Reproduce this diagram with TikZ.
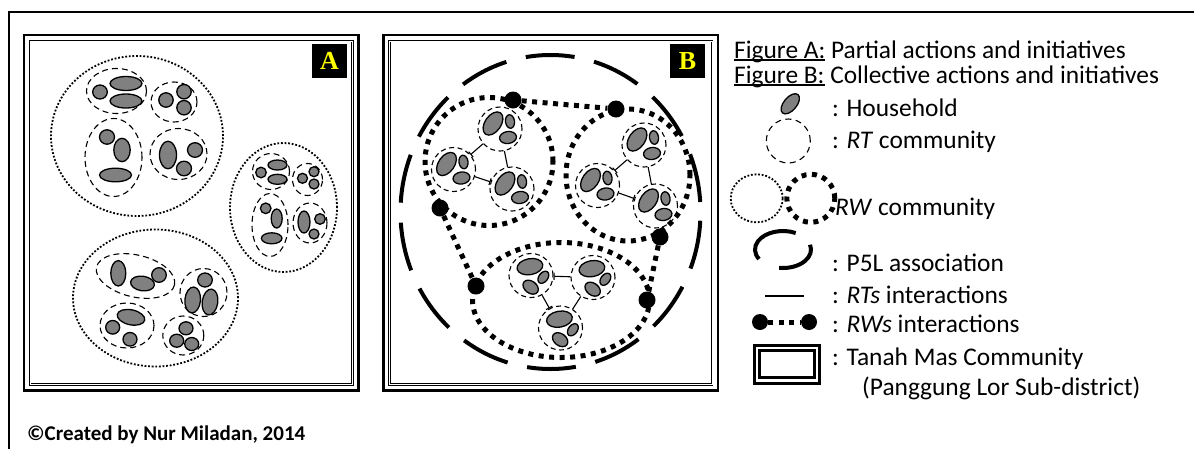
\documentclass[tikz,border=0pt]{standalone}
\usepackage{fontspec}
\setmainfont{Carlito}
\newfontfamily\labfont{Liberation Serif}
\usetikzlibrary{shapes.geometric,arrows.meta}
\definecolor{hhgray}{RGB}{128,128,128}
\definecolor{labyellow}{RGB}{255,255,0}
\newsavebox{\ulsave}
\newcommand{\myul}[1]{\sbox{\ulsave}{#1}\rlap{\rule[-2.6pt]{\wd\ulsave}{1.3pt}}\usebox{\ulsave}}
\tikzset{
 hh/.style={draw=black, fill=hhgray, line width=1.3pt},
 rtA/.style={draw, ellipse, inner sep=0pt, line width=1.1pt, dash pattern=on 6pt off 4pt},
 rtB/.style={draw, circle, inner sep=0pt, minimum size=44pt, line width=1.1pt, dash pattern=on 5pt off 3.5pt},
 rwA/.style={line width=1.8pt, dash pattern=on 1.8pt off 1.8pt},
 rwB/.style={line width=5pt, dash pattern=on 5pt off 5.5pt},
 p5l/.style={line width=4pt, dash pattern=on 49pt off 20pt, dash phase=59pt},
 rwdot/.style={circle, fill=black, inner sep=0pt, minimum size=17pt},
 rtline/.style={line width=1.1pt},
 bartip/.style={-{Bar[width=7pt,line width=1.1pt]}},
 lbl/.style={fill=black, text=labyellow, minimum width=35pt, minimum height=34pt, inner sep=0pt, font=\labfont\fontsize{26}{26}\selectfont\bfseries},
 legtext/.style={anchor=base west, inner sep=0pt, font=\fontsize{25.4}{25}\selectfont},
 frameout/.style={line width=2.6pt},
 framein/.style={double, double distance=0.8pt, line width=1pt},
}
\newcommand{\rtgroup}[4]{%
  \node[rtB] (#1) at (#2,#3) {};
  \begin{scope}[shift={(#2,#3)}, rotate=#4]
    \draw[hh, rotate around={55:(-7,-5.5)}] (-7,-5.5) ellipse [x radius=13pt, y radius=8pt];
    \draw[hh, rotate around={8:(10,-7.5)}] (10,-7.5) ellipse [x radius=4.5pt, y radius=6.8pt];
    \draw[hh, rotate around={8:(8,8.5)}] (8,8.5) ellipse [x radius=8.5pt, y radius=6pt];
  \end{scope}}
\begin{document}
\begin{tikzpicture}[x=1pt,y=-1pt]
\useasboundingbox (0,0) rectangle (1194,448);
% outer page frame
\draw[line width=1.5pt] (1196,12) -- (9,12) -- (9,450);

% ---------------- Panel A ----------------
\draw[frameout] (24,35) rectangle (358.7,390.5);
\draw[framein] (30,41) rectangle (352.7,384.5);
\node[lbl] (labA) at (329.5,61) {A};

% RW 1
\draw[rwA] (137,136) ellipse [x radius=86pt, y radius=80pt];
\node[rtA, minimum width=60pt, minimum height=45pt] (a1) at (116.5,91) {};
\draw[hh] (100,92) ellipse [x radius=7.3pt, y radius=7pt];
\draw[hh] (126,83.5) ellipse [x radius=16pt, y radius=7pt];
\draw[hh] (126,101) ellipse [x radius=16pt, y radius=7pt];
\node[rtA, minimum width=46pt, minimum height=40pt] (a2) at (174,102) {};
\draw[hh] (166,100) ellipse [x radius=7.2pt, y radius=7.2pt];
\draw[hh] (184,91.7) ellipse [x radius=7.2pt, y radius=7.2pt];
\draw[hh] (184,107.7) ellipse [x radius=7.2pt, y radius=7.2pt];
\node[rtA, minimum width=57pt, minimum height=78pt] (a3) at (113.5,157.5) {};
\draw[hh] (107,137) ellipse [x radius=7.5pt, y radius=7.2pt];
\draw[hh] (122,150) ellipse [x radius=8.2pt, y radius=11.7pt];
\draw[hh] (115.5,175) ellipse [x radius=16pt, y radius=6.8pt];
\node[rtA, minimum width=57pt, minimum height=51pt] (a4) at (178.5,154) {};
\draw[hh] (168,155) ellipse [x radius=8.5pt, y radius=13.8pt];
\draw[hh] (195,150) ellipse [x radius=7.5pt, y radius=7.3pt];
\draw[hh] (184,168.5) ellipse [x radius=7.5pt, y radius=7.3pt];

% RW 2
\draw[rwA] (283.5,207.5) ellipse [x radius=53.5pt, y radius=64.5pt];
\node[rtA, minimum width=37pt, minimum height=36pt] (b1) at (271,171.5) {};
\draw[hh] (261,172.5) ellipse [x radius=5.3pt, y radius=5.3pt];
\draw[hh] (277.5,165) ellipse [x radius=9.5pt, y radius=5pt];
\draw[hh] (277.5,179.3) ellipse [x radius=9.5pt, y radius=5pt];
\node[rtA, minimum width=30pt, minimum height=32pt] (b2) at (307.5,179.5) {};
\draw[hh] (302.5,178.3) ellipse [x radius=5pt, y radius=5pt];
\draw[hh] (314,171.7) ellipse [x radius=5pt, y radius=5pt];
\draw[hh] (314,184) ellipse [x radius=5pt, y radius=5pt];
\node[rtA, minimum width=36pt, minimum height=63pt] (b3) at (270,225) {};
\draw[hh] (265.7,208.3) ellipse [x radius=5.3pt, y radius=5.3pt];
\draw[hh] (276.7,218.5) ellipse [x radius=5.5pt, y radius=9.5pt];
\draw[hh] (271.7,238.3) ellipse [x radius=10.3pt, y radius=5.5pt];
\node[rtA, minimum width=34pt, minimum height=40pt] (b4) at (310,223) {};
\draw[hh] (304,222) ellipse [x radius=6pt, y radius=11pt];
\draw[hh] (320,219) ellipse [x radius=5.3pt, y radius=5.3pt];
\draw[hh] (314,234) ellipse [x radius=5pt, y radius=5pt];

% RW 3
\draw[rwA] (155.5,298) ellipse [x radius=82.5pt, y radius=68.5pt];
\node[rtA, rotate=-13, minimum width=80pt, minimum height=42pt] (c1) at (135.5,276) {};
\draw[hh] (118.3,273.3) ellipse [x radius=7.5pt, y radius=12.7pt];
\draw[hh, rotate around={-8:(142.5,283.5)}] (142.5,283.5) ellipse [x radius=12pt, y radius=7.3pt];
\draw[hh] (159,275) ellipse [x radius=7.3pt, y radius=7.3pt];
\node[rtA, minimum width=47pt, minimum height=48pt] (c2) at (203.5,292.5) {};
\draw[hh] (205,280) ellipse [x radius=7.3pt, y radius=7pt];
\draw[hh, rotate around={-5:(192.7,300)}] (192.7,300) ellipse [x radius=7.8pt, y radius=13pt];
\draw[hh, rotate around={-8:(210,302)}] (210,302) ellipse [x radius=7.8pt, y radius=13pt];
\node[rtA, minimum width=54pt, minimum height=45pt] (c3) at (127,325.5) {};
\draw[hh, rotate around={-12:(131,317.3)}] (131,317.3) ellipse [x radius=14pt, y radius=7.5pt];
\draw[hh] (112.7,327.3) ellipse [x radius=7pt, y radius=6.8pt];
\draw[hh] (130,339.3) ellipse [x radius=7pt, y radius=6.8pt];
\node[rtA, minimum width=41pt, minimum height=39pt] (c4) at (183.3,335.5) {};
\draw[hh] (186,328.3) ellipse [x radius=7pt, y radius=6.5pt];
\draw[hh] (176.7,340.7) ellipse [x radius=7pt, y radius=6.5pt];
\draw[hh] (191.7,344) ellipse [x radius=7pt, y radius=6.5pt];

% ---------------- Panel B ----------------
\draw[frameout] (383.7,35) rectangle (718,390.5);
\draw[framein] (389.7,41) rectangle (712,384.5);
\node[lbl] (labB) at (687.5,61) {B};

\draw[p5l] (550.5,212) ellipse [x radius=150pt, y radius=157pt];
\draw[rwB] (489,161.5) ellipse [x radius=64pt, y radius=64pt];
\draw[rwB] (628,175) ellipse [x radius=62pt, y radius=66pt];
\draw[rwB] (561,300) ellipse [x radius=88.5pt, y radius=57.5pt];

\rtgroup{T1a}{500}{129}{0}
\rtgroup{T1b}{453.5}{169.5}{0}
\rtgroup{T1c}{512}{189}{0}
\rtgroup{T2a}{644}{145}{0}
\rtgroup{T2b}{597.5}{185.5}{0}
\rtgroup{T2c}{655.5}{206}{0}
\rtgroup{T3a}{531}{275.5}{-45}
\rtgroup{T3b}{593}{277.5}{-45}
\rtgroup{T3c}{560.5}{328}{-45}

\draw[rtline, bartip] (T1a) -- (T1b);
\draw[rtline] (T1a) -- (T1c);
\draw[rtline, bartip] (T1b) -- (T1c);
\draw[rtline, bartip] (T2a) -- (T2b);
\draw[rtline] (T2a) -- (T2c);
\draw[rtline, bartip] (T2b) -- (T2c);
\draw[rtline, bartip] (T3b) -- (T3a);
\draw[rtline, bartip] (T3a) -- (T3c);
\draw[rtline] (T3b) -- (T3c);

\node[rwdot] (D1) at (513,100) {};
\node[rwdot] (D2) at (616,109) {};
\node[rwdot] (D3) at (440,208) {};
\node[rwdot] (D4) at (476,286) {};
\node[rwdot] (D5) at (660,237) {};
\node[rwdot] (D6) at (647,300) {};
\draw[rwB] (D1) -- (D2);
\draw[rwB] (D3) -- (D4);
\draw[rwB] (D5) -- (D6);

% ---------------- Legend ----------------
\node[legtext] (l1) at (734,58) {\myul{Figure A:} Partial actions and initiatives};
\node[legtext] (l2) at (734,83) {\myul{Figure B:} Collective actions and initiatives};
\draw[hh, rotate around={50:(790.3,103.8)}] (790.3,103.8) ellipse [x radius=12pt, y radius=6.5pt];
\node[legtext] (l3) at (832,116) {: Household};
\node[draw, circle, inner sep=0pt, minimum size=44pt, line width=1.1pt, dash pattern=on 6pt off 4.5pt] (legrt) at (788.3,141) {};
\node[legtext] (l4) at (832,148) {: \textit{RT} community};
\draw[rwA] (756.7,198.3) ellipse [x radius=26pt, y radius=24pt];
\draw[rwB] (810.8,198.3) ellipse [x radius=24pt, y radius=24pt];
\node[legtext] (l5) at (835,215) {\textit{RW} community};
\draw[line width=4pt] (783,249.5) ++(63:28pt and 18.5pt) arc [start angle=63, end angle=211, x radius=28pt, y radius=18.5pt];
\draw[line width=4pt] (783,249.5) ++(262:28pt and 18.5pt) arc [start angle=262, end angle=375, x radius=28pt, y radius=18.5pt];
\node[legtext] (l6) at (832,271) {: P5L association};
\coordinate (rtl1) at (765,296);
\coordinate (rtl2) at (804,296);
\draw[line width=1.2pt] (rtl1) -- (rtl2);
\node[legtext] (l7) at (832,303) {: \textit{RTs} interactions};
\node[rwdot, minimum size=16pt] (ld1) at (760,322) {};
\node[rwdot, minimum size=16pt] (ld2) at (809,322) {};
\draw[rwB] (ld1) -- (ld2);
\node[legtext] (l8) at (832,332) {: \textit{RWs} interactions};
\draw[line width=3pt] (754,345.7) rectangle (819,383.3);
\draw[line width=3pt] (759.2,350.8) rectangle (814,377.7);
\node[legtext] (l9) at (832,365) {: Tanah Mas Community};
\node[legtext] (l10) at (862,395) {(Panggung Lor Sub-district)};

% footer
\node[anchor=base west, inner sep=0pt, font=\fontsize{21}{21}\selectfont\bfseries] (credit) at (27,440) {©Created by Nur Miladan, 2014};
\end{tikzpicture}
\end{document}
